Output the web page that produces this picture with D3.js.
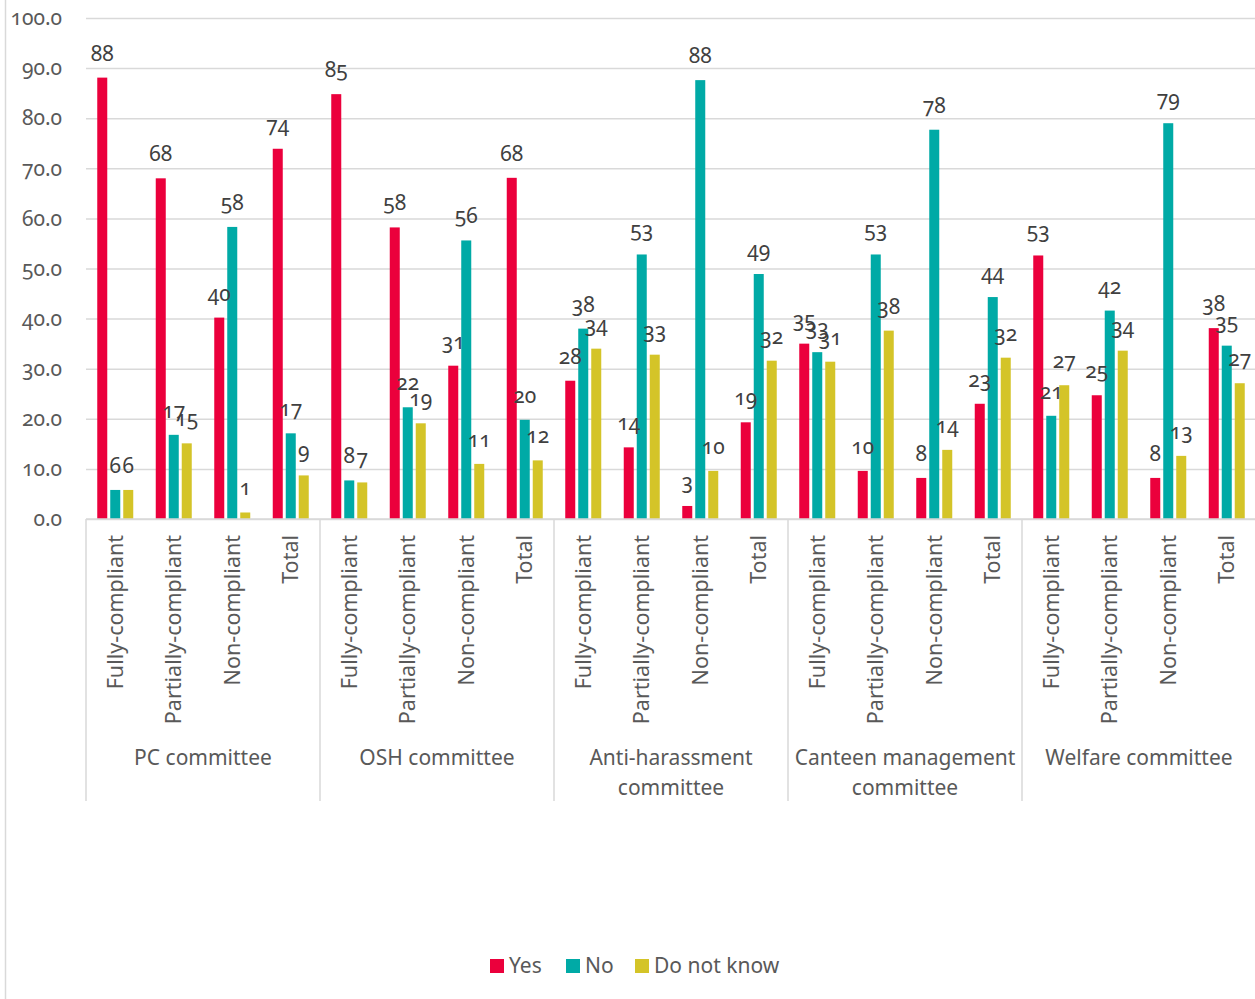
<!DOCTYPE html>
<html>
<head>
<meta charset="utf-8">
<script src="https://cdn.jsdelivr.net/npm/d3@7"></script>
<style>
  html, body { margin: 0; padding: 0; background: #fff; }
  svg text { font-family: "Noto Sans", "Open Sans", sans-serif; font-variant-numeric: oldstyle-nums; }
</style>
</head>
<body>
<svg id="chart" width="1255" height="999"></svg>
<script>
// ---- data ----
const groups = ["PC committee", "OSH committee", "Anti-harassment committee", "Canteen management committee", "Welfare committee"];
const groupLabelLines = [["PC committee"], ["OSH committee"], ["Anti-harassment", "committee"], ["Canteen management", "committee"], ["Welfare committee"]];
const categories = ["Fully-compliant", "Partially-compliant", "Non-compliant", "Total"];
const seriesNames = ["Yes", "No", "Do not know"];
const seriesColors = ["#EB003C", "#00AAA6", "#D4C428"];

// values per group, in category order
const yesValues = [
  [88.1, 68.0, 40.2, 73.9],
  [84.8, 58.2, 30.6, 68.1],
  [27.6, 14.3, 2.6, 19.3],
  [35.0, 9.6, 8.2, 23.0],
  [52.6, 24.7, 8.2, 38.1]
];
const noValues = [
  [5.8, 16.8, 58.3, 17.1],
  [7.7, 22.3, 55.6, 19.8],
  [38.0, 52.8, 87.6, 48.9],
  [33.3, 52.8, 77.7, 44.3],
  [20.6, 41.6, 79.0, 34.6]
];
const dkValues = [
  [5.8, 15.1, 1.3, 8.7],
  [7.3, 19.1, 11.0, 11.7],
  [34.0, 32.8, 9.6, 31.6],
  [31.4, 37.6, 13.8, 32.2],
  [26.7, 33.6, 12.6, 27.1]
];
const yTicks = [0, 10, 20, 30, 40, 50, 60, 70, 80, 90, 100];

// ---- build rows ----
const seriesValues = [yesValues, noValues, dkValues];
const rows = [];
groups.forEach((g, gi) => {
  categories.forEach((c, ci) => {
    rows.push({ key: gi + "|" + ci, group: g, gi, category: c, values: seriesValues.map(s => s[gi][ci]) });
  });
});

// ---- layout ----
const plotLeft = 86, plotRight = 1256, plotTop = 18, plotBottom = 519;
const svg = d3.select("#chart");

const x = d3.scaleBand().domain(rows.map(r => r.key)).range([plotLeft, plotRight]).padding(0);
const xs = d3.scaleBand().domain(seriesNames).range([-18, 18]).paddingInner(0.23).paddingOuter(0);
const y = d3.scaleLinear().domain([0, 100]).range([plotBottom, plotTop]);

// chart border (left)
svg.append("line").attr("x1", 5.5).attr("x2", 5.5).attr("y1", 0).attr("y2", 999)
  .attr("stroke", "#d9d9d9").attr("stroke-width", 1.5);

// gridlines
const grid = svg.append("g").attr("transform", `translate(${plotLeft},0)`)
  .call(d3.axisLeft(y).tickValues(yTicks).tickSize(-(plotRight - plotLeft)).tickFormat(""));
grid.select(".domain").remove();
grid.selectAll(".tick line").attr("stroke", "#d9d9d9").attr("stroke-width", 1.5);

// y tick labels
const yAxis = svg.append("g").attr("transform", `translate(62,0)`)
  .call(d3.axisLeft(y).tickValues(yTicks).tickSize(0).tickPadding(0).tickFormat(d3.format(".1f")));
yAxis.select(".domain").remove();
yAxis.selectAll(".tick text")
  .attr("fill", "#595959").attr("font-size", "21px")
  .attr("dy", "0.32em");

// bars
const catG = svg.append("g").selectAll("g.cat").data(rows).join("g")
  .attr("class", "cat")
  .attr("transform", d => `translate(${x(d.key) + x.bandwidth() / 2},0)`);

catG.selectAll("rect").data(d => d.values.map((v, i) => ({ v, s: seriesNames[i], i }))).join("rect")
  .attr("x", d => xs(d.s))
  .attr("width", xs.bandwidth())
  .attr("y", d => y(d.v))
  .attr("height", d => y(0) - y(d.v))
  .attr("fill", d => seriesColors[d.i]);

// data labels
catG.selectAll("text.lbl").data(d => d.values.map((v, i) => ({ v, s: seriesNames[i], i }))).join("text")
  .attr("class", "lbl")
  .attr("x", d => xs(d.s) + xs.bandwidth() / 2)
  .attr("y", d => y(d.v) - 17)
  .attr("text-anchor", "middle")
  .attr("fill", "#404040")
  .attr("font-size", "21px")
  .text(d => Math.round(d.v));

// category axis line
svg.append("line").attr("x1", plotLeft).attr("x2", plotRight).attr("y1", plotBottom).attr("y2", plotBottom)
  .attr("stroke", "#d9d9d9").attr("stroke-width", 1.5);

// category labels (rotated)
const xAxis = svg.append("g").attr("transform", `translate(0,${plotBottom})`)
  .call(d3.axisBottom(x).tickSize(0).tickFormat(k => rows.find(r => r.key === k).category));
xAxis.select(".domain").remove();
xAxis.selectAll(".tick text")
  .attr("fill", "#595959").attr("font-size", "21.5px")
  .attr("text-anchor", "end")
  .attr("transform", "rotate(-90)")
  .attr("x", -16).attr("y", 0).attr("dy", "0.35em");

// group separators
const groupEdges = d3.range(groups.length + 1).map(i => i === groups.length ? plotRight : x(i + "|0"));
svg.append("g").selectAll("line").data(groupEdges).join("line")
  .attr("x1", d => d).attr("x2", d => d)
  .attr("y1", plotBottom).attr("y2", 801)
  .attr("stroke", "#d9d9d9").attr("stroke-width", 1.5);

// group labels
const groupG = svg.append("g").selectAll("text").data(groups).join("text")
  .attr("x", (g, i) => (groupEdges[i] + groupEdges[i + 1]) / 2)
  .attr("y", 765)
  .attr("text-anchor", "middle")
  .attr("fill", "#595959")
  .attr("font-size", "21px");
groupG.each(function (g, i) {
  const t = d3.select(this);
  groupLabelLines[i].forEach((line, li) => {
    t.append("tspan").attr("x", t.attr("x")).attr("dy", li === 0 ? 0 : 30).text(line);
  });
});

// legend
const legendItems = [
  { name: seriesNames[0], color: seriesColors[0], x: 490 },
  { name: seriesNames[1], color: seriesColors[1], x: 566 },
  { name: seriesNames[2], color: seriesColors[2], x: 635 }
];
const lg = svg.append("g").selectAll("g").data(legendItems).join("g")
  .attr("transform", d => `translate(${d.x},959)`);
lg.append("rect").attr("width", 14).attr("height", 14).attr("fill", d => d.color);
lg.append("text").attr("x", 19).attr("y", 14).attr("fill", "#595959").attr("font-size", "21px").text(d => d.name);
</script>
</body>
</html>
